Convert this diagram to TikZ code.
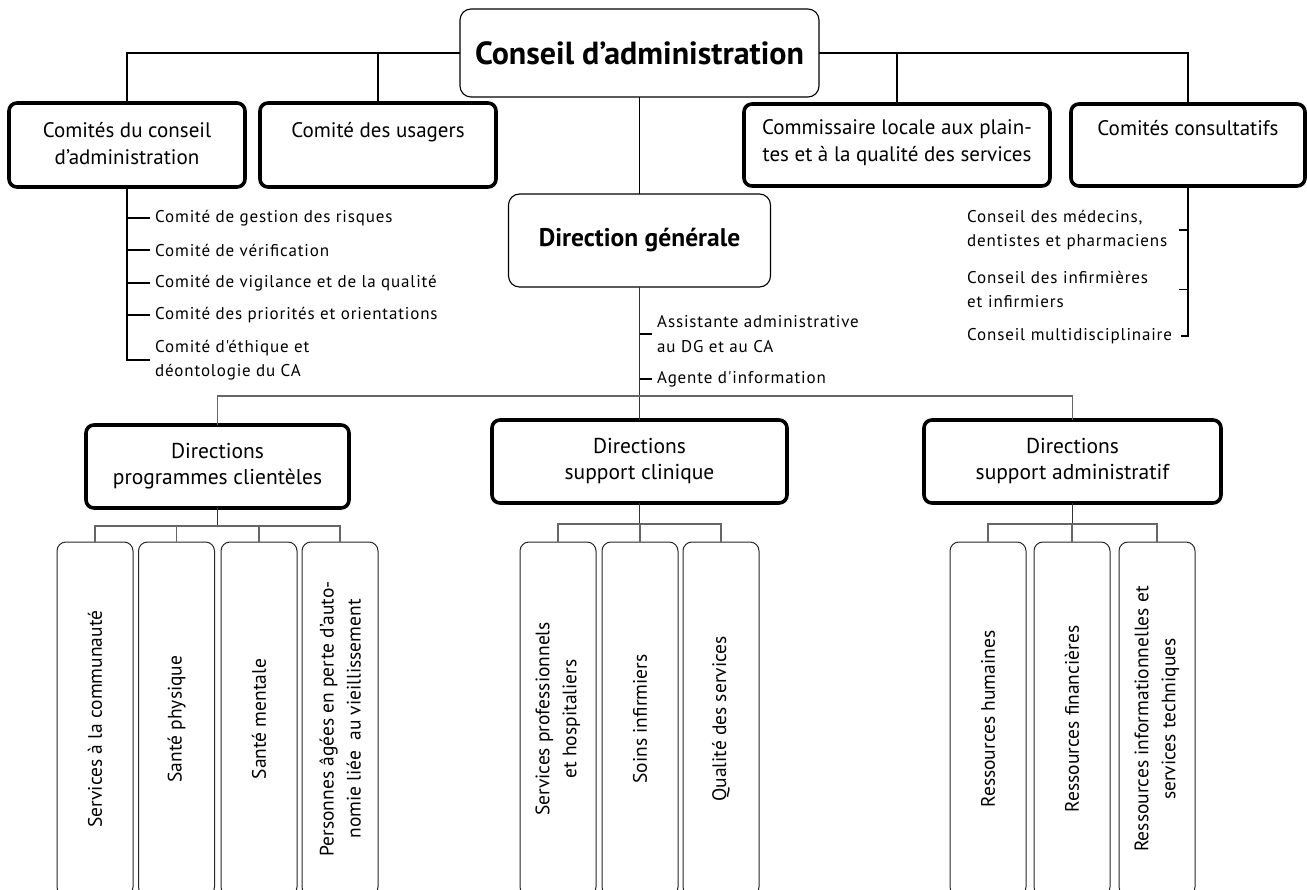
\documentclass[tikz,border=0pt]{standalone}
\usepackage{fontspec}
\setmainfont{PT Sans}
\newfontfamily\spacedfont[LetterSpace=5]{PT Sans}
\begin{document}
\begin{tikzpicture}[x=1pt,y=-1pt,
  thinbox/.style={draw=black, line width=1.1pt, rounded corners=11pt, inner sep=0pt, outer sep=0pt, align=center},
  thickbox/.style={draw=black, line width=3.6pt, rounded corners=8pt, inner sep=0pt, outer sep=0pt, align=center, font=\fontsize{21}{27}\selectfont},
  dirbox/.style={draw=black, line width=3.6pt, rounded corners=8pt, inner sep=0pt, outer sep=0pt, align=center, minimum height=83pt, font=\fontsize{21.5}{26}\selectfont},
  subbox/.style={draw=black!85, line width=1pt, rounded corners=9pt, inner sep=0pt, outer sep=0pt, rotate=90, minimum width=354pt, minimum height=76pt, align=center, font=\fontsize{19.5}{27}\selectfont},
  conn/.style={draw=black, line width=1.1pt},
  gconn/.style={draw=black!60, line width=1.6pt},
  dconn/.style={draw=black!80, line width=1.4pt},
  item/.style={anchor=west, inner sep=0pt, align=left, font=\spacedfont\fontsize{17}{24.5}\selectfont},
  ritem/.style={anchor=west, inner sep=0pt, align=left, text width=203pt, font=\spacedfont\fontsize{17}{24.5}\selectfont},
]
\clip (0,0) rectangle (1307,890);
\useasboundingbox (0,0) rectangle (1307,890);

% top level
\node[thinbox, minimum width=359pt, minimum height=88pt, font=\bfseries\fontsize{32}{38}\selectfont] (ca) at (639.5,53) {Conseil d'administration};

\node[thickbox, minimum width=236pt, minimum height=84pt] (cca) at (127,145) {\parbox[c][46pt][t]{230pt}{\centering Comités du conseil\\d'administration}};
\node[thickbox, minimum width=236pt, minimum height=84pt] (cu) at (378,145) {\parbox[c][46pt][t]{230pt}{\centering Comité des usagers}};
\node[thickbox, minimum width=306pt, minimum height=82pt] (cla) at (897,145) {\parbox[c][50pt][t]{300pt}{\centering Commissaire locale aux plain-\\tes et à la qualité des services}};
\node[thickbox, minimum width=234pt, minimum height=82pt] (cc) at (1188,145) {\parbox[c][50pt][t]{228pt}{\centering Comités consultatifs}};

\draw[conn] (ca.west) -| (cca.north);
\draw[conn] (cu.north) -- (cu.north |- ca.west);
\draw[conn] (ca.east) -| (cc.north);
\draw[conn] (cla.north) -- (cla.north |- ca.east);

% left list
\node[item] (i1) at (155,218) {Comité de gestion des risques};
\node[item] (i2) at (155,250) {Comité de vérification};
\node[item] (i3) at (155,283) {Comité de vigilance et de la qualité};
\node[item] (i4) at (155,315) {Comité des priorités et orientations};
\node[item] (i5) at (155,360) {Comité d'éthique et\\déontologie du CA};
\draw[conn] (cca.south) |- ([xshift=-5pt]i5.west);
\foreach \i in {i1,i2,i3,i4}{
  \draw[conn] (cca.south |- \i.west) -- ([xshift=-5pt]\i.west);
}

% right list
\node[ritem] (r1) at (967,230) {Conseil des médecins,\\dentistes et pharmaciens};
\node[ritem] (r2) at (967,289.5) {Conseil des infirmières\\et infirmiers};
\node[ritem] (r3) at (967,336) {Conseil multidisciplinaire};
\draw[conn] (cc.south) |- ([xshift=11pt]r3.east);
\foreach \i in {r1,r2}{
  \draw[conn] (cc.south |- \i.east) -- ([xshift=9pt]\i.east);
}

% direction generale
\node[thinbox, minimum width=262pt, minimum height=93pt, font=\bfseries\fontsize{25.5}{30}\selectfont] (dg) at (639.5,240.5) {Direction générale};
\draw[conn] (ca.south) -- (dg.north);

\node[item] (a1) at (657,334) {Assistante administrative\\au DG et au CA};
\node[item] (a2) at (657,379) {Agente d'information};

% directions
\node[dirbox, minimum width=263pt] (dpc) at (217.5,466.5) {Directions\\programmes clientèles};
\node[dirbox, minimum width=295pt] (dsc) at (639.5,461.5) {Directions\\support clinique};
\node[dirbox, minimum width=297pt] (dsa) at (1072.5,461.5) {Directions\\support administratif};

\draw[dconn] (dg.south) -- (dsc.north);
\draw[conn] (dg.south |- a1.west) -- ([xshift=-5pt]a1.west);
\draw[conn] (dg.south |- a2.west) -- ([xshift=-5pt]a2.west);

\coordinate (hb) at (639.5,396);
\draw[gconn] (dpc.north) -- (dpc.north |- hb) -- (dsa.north |- hb) -- (dsa.north);

% sub boxes programmes
\node[subbox] (p1) at (95,719) {Services à la communauté};
\node[subbox] (p2) at (176.5,719) {Santé physique};
\node[subbox] (p3) at (259,719) {Santé mentale};
\node[subbox] (p4) at (340,719) {Personnes âgées en perte d'auto-\\nomie liée~ au vieillissement};
\coordinate (bp) at (217.5,526);
\draw[dconn] (dpc.south) -- (dpc.south |- bp);
\draw[gconn] (p1.east) |- (p4.east |- bp) -- (p4.east);
\draw[gconn] (p2.east) -- (p2.east |- bp);
\draw[gconn] (p3.east) -- (p3.east |- bp);

% sub boxes clinique
\node[subbox] (c1) at (558,719) {Services professionnels\\et hospitaliers};
\node[subbox] (c2) at (640,719) {Soins infirmiers};
\node[subbox] (c3) at (721,719) {Qualité des services};
\coordinate (bc) at (639.5,524);
\draw[dconn] (dsc.south) -- (dsc.south |- bc);
\draw[gconn] (c1.east) |- (c3.east |- bc) -- (c3.east);
\draw[gconn] (c2.east) -- (c2.east |- bc);

% sub boxes administratif
\node[subbox] (d1) at (988,719) {Ressources humaines};
\node[subbox] (d2) at (1072,719) {Ressources financières};
\node[subbox] (d3) at (1157,719) {Ressources informationnelles et\\services techniques};
\coordinate (bd) at (1072.5,524);
\draw[dconn] (dsa.south) -- (dsa.south |- bd);
\draw[gconn] (d1.east) |- (d3.east |- bd) -- (d3.east);
\draw[gconn] (d2.east) -- (d2.east |- bd);
\end{tikzpicture}
\end{document}
